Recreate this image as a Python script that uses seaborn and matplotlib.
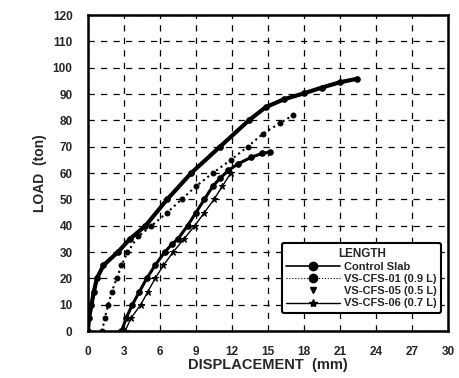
import matplotlib
matplotlib.use("Agg")
import matplotlib.pyplot as plt
import seaborn as sns
import pandas as pd
from matplotlib.lines import Line2D

sns.set_theme(style="white")
plt.rcParams['font.family'] = ['Liberation Sans', 'DejaVu Sans']
plt.rcParams['font.weight'] = 'bold'

# Control Slab
ctrl_x = [0.0, 0.1, 0.3, 0.5, 0.75, 1.3, 2.5, 3.5, 4.8, 6.6, 8.6, 11.0, 13.4, 14.8, 16.3, 18.0, 19.5, 21.0, 22.4]
ctrl_y = [0, 5, 10, 15, 20, 25, 30, 35, 40, 50, 60, 70, 80, 85, 88, 90.3, 92.5, 94.5, 95.8]
# VS-CFS-01 (0.9 L)
c01_x = [1.2, 1.4, 1.7, 2.0, 2.4, 2.8, 3.3, 4.2, 5.3, 6.6, 7.8, 9.0, 10.4, 11.9, 13.3, 14.6, 16.0, 17.1]
c01_y = [0, 5, 10, 15, 20, 25, 30, 36, 40, 45, 50, 55, 60, 65, 70, 75, 79, 82]
# VS-CFS-05 (0.5 L)
c05_x = [2.8, 3.2, 3.7, 4.3, 4.9, 5.6, 6.4, 7.0, 7.5, 8.3, 9.0, 9.7, 10.4, 11.0, 11.7, 12.5, 13.6, 14.5, 15.2]
c05_y = [0, 5, 10, 15, 20, 25, 30, 33, 35, 40, 45, 50, 55, 58, 61, 63.5, 66, 67.5, 68]
# VS-CFS-06 (0.7 L)
c06_x = [3.1, 3.6, 4.4, 5.0, 5.6, 6.3, 7.1, 8.0, 8.9, 9.7, 10.5, 11.2, 11.9]
c06_y = [0, 5, 10, 15, 20, 25, 30, 35, 40, 45, 50, 55, 60]

labels = ["Control Slab", "VS-CFS-01 (0.9 L)", "VS-CFS-05 (0.5 L)", "VS-CFS-06 (0.7 L)"]
x_ticks = [0, 3, 6, 9, 12, 15, 18, 21, 24, 27, 30]
y_ticks = [0, 10, 20, 30, 40, 50, 60, 70, 80, 90, 100, 110, 120]

fig = plt.figure(figsize=(4.6, 3.78), dpi=100)
ax = fig.add_axes([0.191, 0.124, 0.783, 0.836])

series = [
    (ctrl_x, ctrl_y, dict(lw=3.0, ls='-', marker='o', ms=4)),
    (c01_x, c01_y, dict(lw=1.5, ls=':', marker='o', ms=3.5)),
    (c05_x, c05_y, dict(lw=2.2, ls='-', marker='o', ms=4)),
    (c06_x, c06_y, dict(lw=1.0, ls='-', marker='*', ms=5)),
]
for (xs, ys, st), lab in zip(series, labels):
    df = pd.DataFrame({"disp": xs, "load": ys})
    sns.lineplot(data=df, x="disp", y="load", ax=ax, sort=False, estimator=None,
                 color='black', linewidth=st['lw'], linestyle=st['ls'],
                 marker=st['marker'], markersize=st['ms'], markeredgecolor='black',
                 legend=False)

ax.set_xlim(0, 30)
ax.set_ylim(0, 120)
ax.set_xticks(x_ticks)
ax.set_yticks(y_ticks)
ax.set_xticklabels([str(t) for t in x_ticks], fontsize=8.5, fontweight='heavy')
ax.set_yticklabels([str(t) for t in y_ticks], fontsize=8.5, fontweight='heavy')
ax.grid(True, color='black', linestyle=(0, (5, 5)), linewidth=0.9)
ax.tick_params(axis='both', direction='out', length=9, width=1.5, color='black', pad=2)
for sp in ax.spines.values():
    sp.set_color('black')
    sp.set_linewidth(1.8)
ax.set_xlabel("DISPLACEMENT  (mm)", fontsize=10.5, fontweight='bold', labelpad=0)
ax.set_ylabel("LOAD  (ton)", fontsize=10, fontweight='bold', labelpad=4)

handles = [
    Line2D([], [], color='black', lw=1.2, ls='-', marker='o', ms=6),
    Line2D([], [], color='black', lw=0.8, ls=':', marker='o', ms=6),
    Line2D([], [], color='black', lw=0, marker='v', ms=5),
    Line2D([], [], color='black', lw=1.0, ls='-', marker='*', ms=6),
]
leg = ax.legend(handles, labels, title="LENGTH", loc='lower right',
                bbox_to_anchor=(0.997, 0.04), prop={'weight': 'bold', 'size': 8},
                title_fontproperties={'weight': 'bold', 'size': 8.5},
                fancybox=True, frameon=True, handlelength=4.8, labelspacing=0.2,
                borderpad=0.4, handletextpad=0.4)
leg.get_frame().set_edgecolor('black')
leg.get_frame().set_linewidth(1.5)
leg.get_frame().set_alpha(1)

fig.savefig("out.png", dpi=100)
